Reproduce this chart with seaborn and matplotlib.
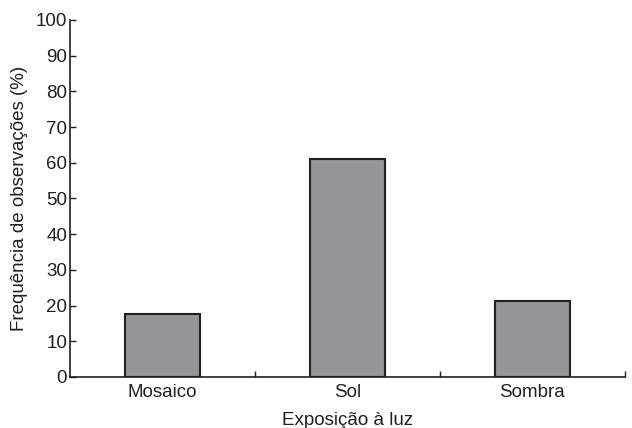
import matplotlib
matplotlib.use("Agg")
import matplotlib.pyplot as plt
import seaborn as sns
import pandas as pd

categories = ["Mosaico", "Sol", "Sombra"]
frequencies = [17.7, 61.2, 21.3]

df = pd.DataFrame({"Exposição à luz": categories, "Frequência": frequencies})

sns.set_style("ticks")
plt.rcParams["font.family"] = ["Liberation Sans", "DejaVu Sans"]

ink = "#231f20"
fs = 13.5
fig = plt.figure(figsize=(6.32, 4.28), dpi=100)
ax = fig.add_axes([0.1108, 0.1192, 0.878, 0.8341])

sns.barplot(data=df, x="Exposição à luz", y="Frequência", ax=ax,
            color="#939598", saturation=1, width=0.405,
            edgecolor=ink, linewidth=1.5)

ax.set_xlim(-0.5, 2.5)
ax.set_ylim(0, 100)
ax.set_yticks(range(0, 101, 10))
ax.tick_params(axis="y", direction="in", length=4, width=1, colors=ink,
               labelsize=fs, pad=2)
ax.tick_params(axis="x", which="major", length=0, labelsize=fs, colors=ink, pad=5)
ax.set_xticks([0.5, 1.5, 2.5], minor=True)
ax.tick_params(axis="x", which="minor", direction="in", length=4, width=1, colors=ink)

for s in ["top", "right"]:
    ax.spines[s].set_visible(False)
for s in ["left", "bottom"]:
    ax.spines[s].set_color(ink)
    ax.spines[s].set_linewidth(1.2)

ax.set_xlabel("Exposição à luz", fontsize=fs, color=ink, labelpad=8)
ax.set_ylabel("Frequência de observações (%)", fontsize=fs, color=ink, labelpad=6)

fig.savefig("out.png", dpi=100, facecolor="white")
